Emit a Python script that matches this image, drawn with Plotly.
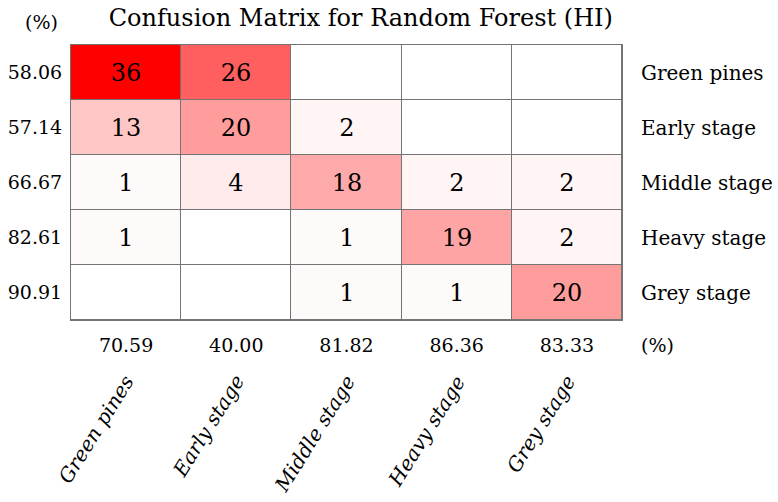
import plotly.graph_objects as go

classes = ['Green pines', 'Early stage', 'Middle stage', 'Heavy stage', 'Grey stage']
counts = [
    [36, 26, 0, 0, 0],
    [13, 20, 2, 0, 0],
    [1, 4, 18, 2, 2],
    [1, 0, 1, 19, 2],
    [0, 0, 1, 1, 20],
]
row_pct = ['58.06', '57.14', '66.67', '82.61', '90.91']
col_pct = ['70.59', '40.00', '81.82', '86.36', '83.33']

reds = [
    [0.0, '#ffffff'],
    [0.03, '#fffafa'],
    [0.111, '#ffebeb'],
    [0.361, '#ffc6c6'],
    [0.5, '#ffaaaa'],
    [0.556, '#ff9d9d'],
    [0.722, '#ff5f5f'],
    [1.0, '#ff0000'],
]

font = 'DejaVu Serif'
grid = '#747474'
labels = [[str(v) if v else '' for v in row] for row in counts]

fig = go.Figure(go.Heatmap(
    z=counts, x=classes, y=classes, text=labels, texttemplate='%{text}',
    textfont=dict(size=24, color='black', family=font),
    colorscale=reds, zmin=0, zmax=36, showscale=False,
    xgap=1, ygap=1, hoverinfo='skip',
))

# row recall on the left, column precision below
fig.update_yaxes(range=[4.5, -0.5], tickvals=classes, ticktext=row_pct,
                 showline=True, mirror=True, linecolor=grid, ticks='',
                 showgrid=False, zeroline=False, tickfont=dict(size=19),
                 ticklabelstandoff=4, automargin=False)
fig.update_xaxes(range=[-0.5, 4.5], tickvals=classes, ticktext=col_pct, tickangle=0,
                 showline=True, mirror=True, linecolor=grid, ticks='',
                 showgrid=False, zeroline=False, tickfont=dict(size=19),
                 ticklabelstandoff=8, automargin=False)

ann = []
for c in classes:
    # class names on the right of each row
    ann.append(dict(x=1.03, y=c, xref='paper', yref='y', text=c, showarrow=False,
                    xanchor='left', font=dict(size=20, family=font)))
    # rotated class names under each column
    ann.append(dict(x=c, y=-0.175, xref='x', yref='paper', text=c, showarrow=False,
                    xanchor='right', yanchor='top', xshift=16, textangle=-58,
                    font=dict(size=20, family=font, style='italic')))
ann.append(dict(x=1.03, y=-0.091, xref='paper', yref='paper', text='(%)',
                showarrow=False, xanchor='left', yanchor='middle',
                font=dict(size=19, family=font)))
ann.append(dict(x=-0.02, y=1.084, xref='paper', yref='paper', text='(%)',
                showarrow=False, xanchor='right', yanchor='middle',
                font=dict(size=19, family=font)))

fig.update_layout(
    width=778, height=502,
    margin=dict(l=71, r=156, t=45, b=182),
    title=dict(text='Confusion Matrix for Random Forest (HI)', x=0.526, xref='paper',
               xanchor='center', y=0.964, yanchor='middle',
               font=dict(size=24, family=font, color='black')),
    font=dict(family=font, size=19, color='black'),
    plot_bgcolor=grid, paper_bgcolor='white',
    annotations=ann,
)

fig.write_html('out.html', config={'displayModeBar': False},
               post_script="document.body.style.margin='0';")
